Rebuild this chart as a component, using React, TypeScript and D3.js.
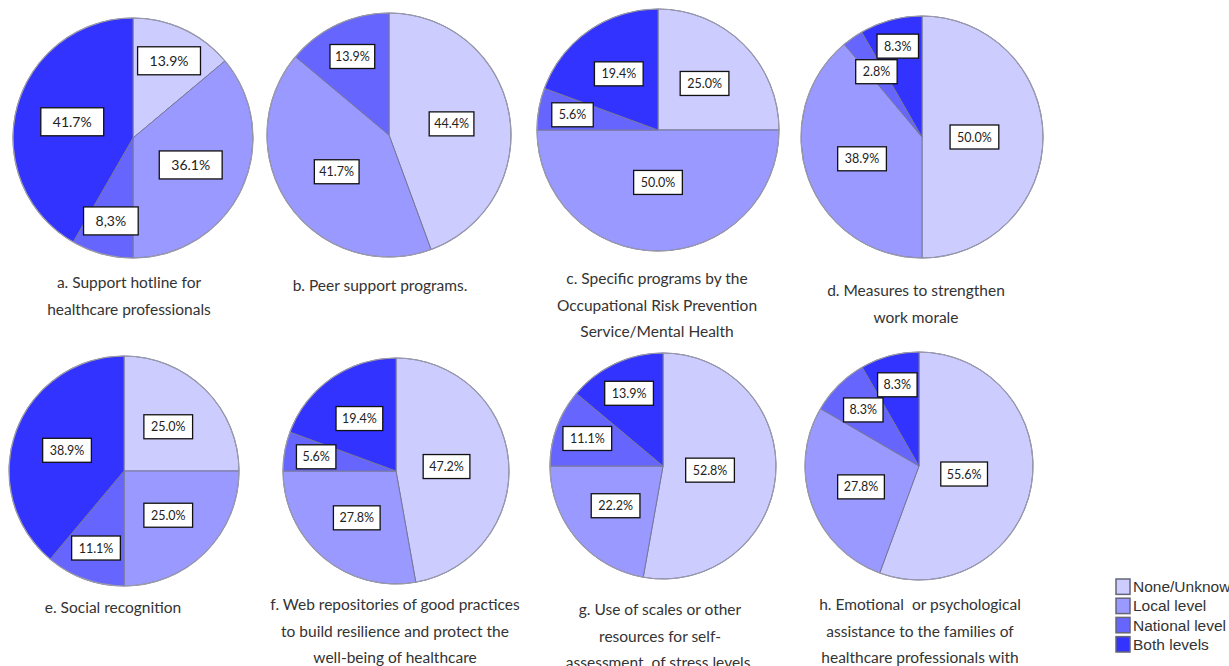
import React from "react";
import * as d3 from "d3";

// Response categories, in slice order (clockwise from 12 o'clock)
const categories = ["None/Unknown", "Local level", "National level", "Both levels"];
const sliceColors = ["#ccccff", "#9999ff", "#6666ff", "#3333ff"];

// Percentage of respondents per category for each measure
const supportHotline = [13.9, 36.1, 8.3, 41.7];
const peerSupport = [44.4, 41.7, 13.9, 0];
const specificPrograms = [25.0, 50.0, 5.6, 19.4];
const workMorale = [50.0, 38.9, 2.8, 8.3];
const socialRecognition = [25.0, 25.0, 11.1, 38.9];
const webRepositories = [47.2, 27.8, 5.6, 19.4];
const selfAssessment = [52.8, 22.2, 11.1, 13.9];
const familyAssistance = [55.6, 27.8, 8.3, 8.3];

const captions = [
  ["a. Support hotline for", "healthcare professionals"],
  ["b. Peer support programs."],
  ["c. Specific programs by the", "Occupational Risk Prevention", "Service/Mental Health"],
  ["d. Measures to strengthen", "work morale"],
  ["e. Social recognition"],
  ["f. Web repositories of good practices", "to build resilience and protect the", "well-being of healthcare"],
  ["g. Use of scales or other", "resources for self-", "assessment  of stress levels."],
  ["h. Emotional  or psychological", "assistance to the families of", "healthcare professionals with"],
];

const seriesList = [
  supportHotline, peerSupport, specificPrograms, workMorale,
  socialRecognition, webRepositories, selfAssessment, familyAssistance,
];

// Labels printed with a decimal comma: [panel index, category index]
const commaLabels = [[0, 2]];

// Panel placement: pie centre, radius, caption anchor and label sizing
const layout = [
  { cx: 133, cy: 138, r: 120, capX: 129, capY: 282, font: 14, padX: 12, boxH: 28 },
  { cx: 389, cy: 135, r: 122, capX: 380, capY: 285, font: 12.5, padX: 5, boxH: 24 },
  { cx: 658, cy: 130, r: 121, capX: 657, capY: 278, font: 12.5, padX: 7, boxH: 24 },
  { cx: 922, cy: 137, r: 121, capX: 916, capY: 290, font: 12.5, padX: 7, boxH: 24 },
  { cx: 124, cy: 471, r: 115, capX: 113, capY: 607, font: 12.5, padX: 7, boxH: 24 },
  { cx: 396, cy: 471, r: 113, capX: 395, capY: 604, font: 12.5, padX: 6, boxH: 24 },
  { cx: 663, cy: 466, r: 113, capX: 660, capY: 609, font: 12.5, padX: 7, boxH: 24 },
  { cx: 919, cy: 466, r: 114, capX: 920, capY: 604, font: 12.5, padX: 6, boxH: 24 },
];

const CAPTION_STEP = 26.5;
const CAPTION_SIZE = 15.5;
const LABEL_FONT = "Lato, 'Open Sans', sans-serif";

// Distance of a label from the centre (fraction of radius) by slice share
const labelRadius = d3
  .scaleLinear()
  .domain([0.03, 0.14, 0.2, 0.45, 0.47, 0.56])
  .range([0.72, 0.71, 0.55, 0.52, 0.45, 0.4])
  .clamp(true);

const colorScale = d3.scaleOrdinal<string, string>().domain(categories).range(sliceColors);

let measureCtx: CanvasRenderingContext2D | null = null;
function textWidth(text: string, size: number): number {
  if (!measureCtx) {
    const c = document.createElement("canvas");
    measureCtx = c.getContext("2d");
  }
  if (!measureCtx) return text.length * size * 0.55;
  measureCtx.font = `${size}px Lato`;
  return measureCtx.measureText(text).width;
}

const fmt = d3.format(".1f");

type Datum = { category: string; value: number; i: number };
type Label = { key: string; text: string; mid: number; dist: number; w: number; h: number };

function place(l: Label) {
  return { x: Math.sin(l.mid) * l.dist, y: -Math.cos(l.mid) * l.dist };
}

function overlaps(a: Label, b: Label) {
  const pa = place(a);
  const pb = place(b);
  return Math.abs(pa.x - pb.x) < (a.w + b.w) / 2 + 1 && Math.abs(pa.y - pb.y) < (a.h + b.h) / 2 + 1;
}

function Pie({ index }: { index: number }) {
  const values = seriesList[index];
  const L = layout[index];
  const data: Datum[] = categories.map((c, i) => ({ category: c, value: values[i], i }));
  const arcs = d3
    .pie<Datum>()
    .sort(null)
    .value((d) => d.value)(data);
  const arcGen = d3.arc<d3.PieArcDatum<Datum>>().innerRadius(0).outerRadius(L.r);
  const total = d3.sum(values);

  const labels: Label[] = arcs
    .filter((a) => a.value > 0)
    .map((a) => {
      let text = fmt(a.value) + "%";
      if (commaLabels.some(([p, c]) => p === index && c === a.data.i)) {
        text = text.replace(".", ",");
      }
      return {
        key: a.data.category,
        text,
        mid: (a.startAngle + a.endAngle) / 2,
        dist: labelRadius(a.value / total) * L.r,
        w: textWidth(text, L.font) + L.padX * 2,
        h: L.boxH,
      };
    });

  // Separate neighbouring labels that collide: earlier one inward, later outward
  for (let k = 0; k < labels.length - 1; k++) {
    const a = labels[k];
    const b = labels[k + 1];
    let guard = 0;
    while (overlaps(a, b) && guard < 200) {
      a.dist -= 0.5;
      b.dist += 0.5;
      guard++;
    }
  }

  return (
    <g transform={`translate(${L.cx},${L.cy})`}>
      {arcs.map((a) =>
        a.value > 0 ? (
          <path
            key={a.data.category}
            d={arcGen(a) || ""}
            fill={colorScale(a.data.category)}
            stroke="#77779a"
            strokeWidth={1}
            strokeLinejoin="round"
          />
        ) : null
      )}
      <circle r={L.r} fill="none" stroke="#9a9aac" strokeWidth={1.2} />
      {labels.map((l) => {
        const p = place(l);
        return (
          <g key={"l" + l.key} transform={`translate(${p.x},${p.y})`}>
            <rect
              x={-l.w / 2}
              y={-l.h / 2}
              width={l.w}
              height={l.h}
              fill="#ffffff"
              stroke="#111111"
              strokeWidth={1.3}
            />
            <text
              textAnchor="middle"
              dominantBaseline="central"
              fontFamily={LABEL_FONT}
              fontSize={L.font}
              fill="#222222"
            >
              {l.text}
            </text>
          </g>
        );
      })}
    </g>
  );
}

function Caption({ index }: { index: number }) {
  const L = layout[index];
  return (
    <g>
      {captions[index].map((line, k) => (
        <text
          key={k}
          x={L.capX}
          y={L.capY + k * CAPTION_STEP}
          textAnchor="middle"
          dominantBaseline="central"
          fontFamily={LABEL_FONT}
          fontSize={CAPTION_SIZE}
          fill="#333333"
          style={{ whiteSpace: "pre" }}
        >
          {line}
        </text>
      ))}
    </g>
  );
}

function Legend() {
  const y = d3.scaleBand<string>().domain(categories).range([579, 652]).paddingInner(0.2);
  return (
    <g>
      {categories.map((c) => (
        <g key={c} transform={`translate(1116,${y(c)})`}>
          <rect
            width={14}
            height={y.bandwidth()}
            fill={colorScale(c)}
            stroke="#666677"
            strokeWidth={1.5}
          />
          <text
            x={17}
            y={y.bandwidth() / 2}
            dominantBaseline="central"
            fontFamily="'Liberation Sans', Arial, sans-serif"
            fontSize={15.5}
            fill="#333333"
          >
            {c}
          </text>
        </g>
      ))}
    </g>
  );
}

export default function App() {
  return (
    <svg
      width={1229}
      height={666}
      style={{ position: "absolute", left: 0, top: 0, background: "#ffffff" }}
    >
      <rect width={1229} height={666} fill="#ffffff" />
      {seriesList.map((_, i) => (
        <g key={i}>
          <Pie index={i} />
          <Caption index={i} />
        </g>
      ))}
      <Legend />
    </svg>
  );
}
